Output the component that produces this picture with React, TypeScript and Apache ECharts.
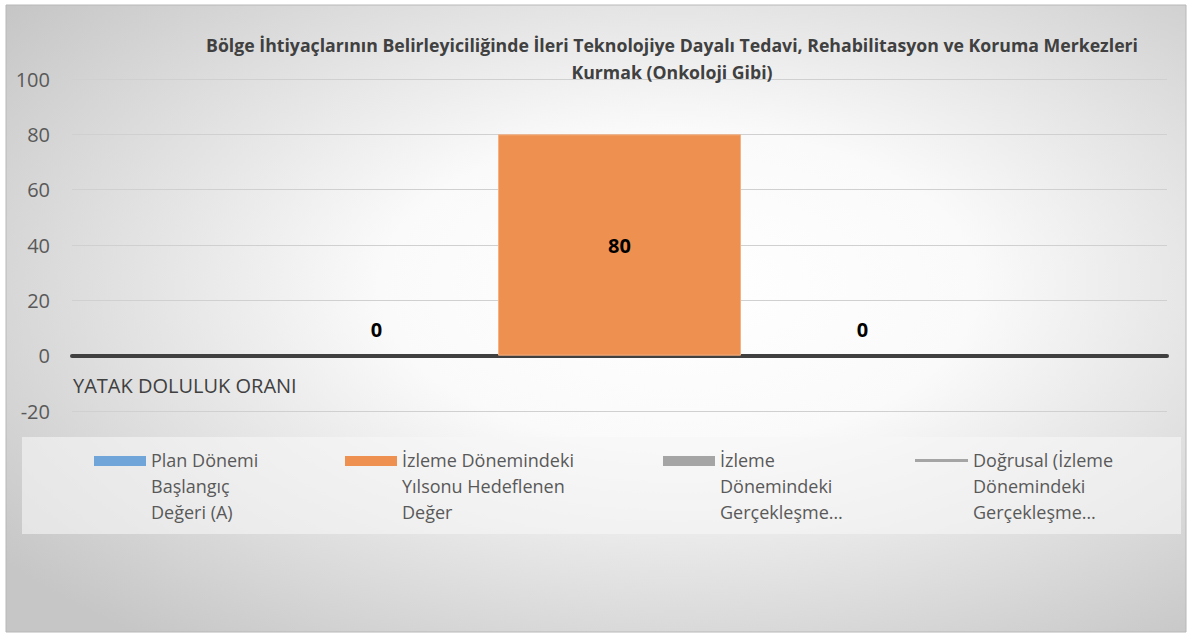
import React, { useEffect, useRef } from "react";
import * as echarts from "echarts";

const categories = ["YATAK DOLULUK ORANI"];
const seriesNames = [
  "Plan Dönemi Başlangıç Değeri (A)",
  "İzleme Dönemindeki Yılsonu Hedeflenen Değer",
  "İzleme Dönemindeki Gerçekleşme Değeri",
  "Doğrusal (İzleme Dönemindeki Gerçekleşme Değeri)",
];
const legendLabels = [
  "Plan Dönemi\nBaşlangıç\nDeğeri (A)",
  "İzleme Dönemindeki\nYılsonu Hedeflenen\nDeğer",
  "İzleme\nDönemindeki\nGerçekleşme…",
  "Doğrusal (İzleme\nDönemindeki\nGerçekleşme…",
];
const planValues = [0];
const targetValues = [80];
const actualValues = [0];
const trendValues = [0];
const yTicks = { min: -20, max: 100, interval: 20 };
const titleText =
  "Bölge İhtiyaçlarının Belirleyiciliğinde İleri Teknolojiye Dayalı Tedavi, Rehabilitasyon ve Koruma Merkezleri\nKurmak (Onkoloji Gibi)";

const FONT = "'Open Sans', 'Noto Sans', sans-serif";
const colors = ["#6FA5D9", "#EE9150", "#A5A5A5", "#A5A5A5"];

const barIcon = "path://M0,9 L52,9 L52,19 L0,19 Z M0,0 L0.01,0 M0,78 L0.01,78";
const lineIcon = "path://M0,12 L53,12 L53,15 L0,15 Z M0,0 L0.01,0 M0,78 L0.01,78";
const legendLefts = [94, 345, 663, 915];

export default function App() {
  const ref = useRef<HTMLDivElement>(null);
  useEffect(() => {
    if (!ref.current) return;
    const chart = echarts.init(ref.current, null, { renderer: "svg" });
    const zeroLabel = (dist: number) => ({
      show: true,
      position: "top" as const,
      distance: dist,
      fontFamily: FONT,
      fontSize: 20,
      fontWeight: "bold" as const,
      color: "#000000",
    });
    const legends = seriesNames.map((n, i) => ({
      show: true,
      left: legendLefts[i],
      top: 447,
      padding: 0,
      orient: "horizontal" as const,
      selectedMode: false,
      itemWidth: i === 3 ? 53 : 52,
      itemHeight: 78,
      data: [
        {
          name: n,
          icon: i === 3 ? lineIcon : barIcon,
          itemStyle: { color: colors[i], borderWidth: 0 },
        },
      ],
      formatter: () => legendLabels[i],
      textStyle: {
        fontFamily: FONT,
        fontSize: 18,
        lineHeight: 26,
        color: "#595959",
      },
    }));
    chart.setOption({
      animation: false,
      title: {
        text: titleText,
        left: 672,
        top: 31,
        padding: 0,
        textAlign: "center",
        textStyle: {
          fontFamily: FONT,
          fontSize: 17.7,
          lineHeight: 27,
          fontWeight: "bold",
          color: "#404040",
        },
      },
      graphic: [
        {
          type: "rect",
          z: -10,
          silent: true,
          shape: { x: 6, y: 5, width: 1180, height: 627 },
          style: {
            fill: {
              type: "radial",
              x: 0.57,
              y: 0.45,
              r: 0.72,
              colorStops: [
                { offset: 0, color: "#ffffff" },
                { offset: 0.35, color: "#fafafa" },
                { offset: 1, color: "#c6c6c6" },
              ],
            },
            stroke: "#b8b8b8",
            lineWidth: 1,
          },
        },
        {
          type: "rect",
          z: -9,
          silent: true,
          shape: { x: 22, y: 437, width: 1159, height: 97 },
          style: { fill: "rgba(246,246,246,0.6)" },
        },
        {
          type: "text",
          z: 5,
          left: 73,
          top: 375,
          style: {
            text: categories[0],
            fontFamily: FONT,
            fontSize: 20,
            fill: "#404040",
          },
        },
      ],
      legend: legends,
      grid: { left: 72, right: 25, top: 79, height: 332, containLabel: false },
      xAxis: {
        type: "category",
        data: categories,
        axisLine: { show: true, onZero: true, lineStyle: { color: "#404040", width: 4 } },
        axisTick: { show: false },
        axisLabel: { show: false },
        splitLine: { show: false },
      },
      yAxis: {
        type: "value",
        min: yTicks.min,
        max: yTicks.max,
        interval: yTicks.interval,
        axisLine: { show: false },
        axisTick: { show: false },
        axisLabel: {
          margin: 22,
          fontFamily: FONT,
          fontSize: 20,
          color: "#595959",
        },
        splitLine: { show: true, lineStyle: { color: "#d0d0d0", width: 1 } },
      },
      series: [
        {
          name: seriesNames[0],
          type: "bar",
          data: planValues,
          barWidth: 243,
          barGap: "0%",
          itemStyle: { color: colors[0] },
          label: zeroLabel(16),
        },
        {
          name: seriesNames[1],
          type: "bar",
          data: targetValues,
          barWidth: 243,
          barGap: "0%",
          itemStyle: { color: colors[1], borderColor: "#F4B183", borderWidth: 1 },
          label: {
            show: true,
            position: "inside",
            fontFamily: FONT,
            fontSize: 20,
            fontWeight: "bold",
            color: "#000000",
          },
        },
        {
          name: seriesNames[2],
          type: "bar",
          data: actualValues,
          barWidth: 243,
          barGap: "0%",
          itemStyle: { color: colors[2] },
          label: zeroLabel(16),
        },
        {
          name: seriesNames[3],
          type: "line",
          data: trendValues,
          showSymbol: false,
          symbol: "none",
          lineStyle: { color: colors[3], width: 3 },
          itemStyle: { color: colors[3] },
        },
      ],
    });
    return () => chart.dispose();
  }, []);
  return (
    <div
      ref={ref}
      style={{ position: "absolute", left: 0, top: 0, width: 1192, height: 633 }}
    />
  );
}
